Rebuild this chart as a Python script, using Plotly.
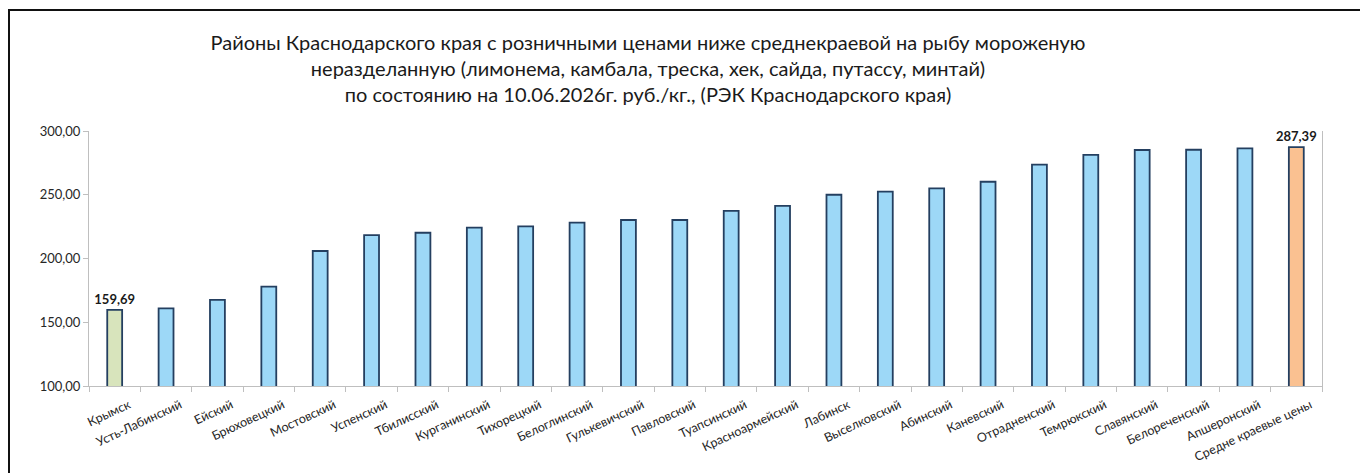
import plotly.graph_objects as go

categories = ["Крымск", "Усть-Лабинский", "Ейский", "Брюховецкий", "Мостовский", "Успенский",
              "Тбилисский", "Курганинский", "Тихорецкий", "Белоглинский", "Гулькевичский",
              "Павловский", "Туапсинский", "Красноармейский", "Лабинск", "Выселковский",
              "Абинский", "Каневский", "Отрадненский", "Темрюкский", "Славянский",
              "Белореченский", "Апшеронский", "Средне краевые цены"]
values = [159.69, 160.9, 167.5, 177.9, 205.9, 218.4, 220.2, 224.2, 225.2, 228.1, 230.2,
          230.2, 237.3, 241.2, 250.0, 252.4, 255.0, 260.2, 273.6, 281.2, 285.1, 285.3,
          286.4, 287.39]
labeled = [0, 23]
y_ticks = [100, 150, 200, 250, 300]

colors = ["#9dd8f7"] * len(values)
colors[0] = "#d8e4bc"
colors[-1] = "#fac191"
texts = [("<b>" + f"{v:.2f}".replace(".", ",") + "</b>") if i in labeled else "" for i, v in enumerate(values)]

W, H = 1360, 473
L, R, T, B = 89, 38, 131, 87
pw, ph = W - L - R, H - T - B

def px(x):
    return (x - L) / pw

def py(y):
    return (H - B - y) / ph

fig = go.Figure()
fig.add_trace(go.Bar(
    x=categories, y=values, width=0.29,
    marker=dict(color=colors, line=dict(color="#243f60", width=1.8)),
    text=texts, textposition="outside", cliponaxis=False, constraintext="none",
    textfont=dict(family="Lato", size=13, color="#1a1a1a"),
    hoverinfo="x+y",
))

fig.update_layout(
    width=W, height=H,
    margin=dict(l=L, r=R, t=T, b=B),
    paper_bgcolor="white", plot_bgcolor="white",
    separators=",.",
    showlegend=False,
    font=dict(family="Lato", color="#333333"),
    title=dict(
        text="Районы Краснодарского края с розничными ценами ниже среднекраевой на рыбу мороженую<br>"
             "неразделанную (лимонема, камбала, треска, хек, сайда, путассу, минтай)<br>"
             "по состоянию на 10.06.2026г. руб./кг., (РЭК Краснодарского края)",
        x=648 / W, xref="container", xanchor="center",
        y=1 - 50 / H, yref="container", yanchor="top",
        font=dict(family="Lato", size=20, color="#1a1a1a"),
    ),
    xaxis=dict(
        tickangle=-25, tickfont=dict(family="Lato", size=12.5, color="#262626"),
        ticklabelshift=14, ticklabelstandoff=6,
        showline=True, linecolor="#bfbfbf", linewidth=1,
        ticks="outside", tickson="boundaries", ticklen=5, tickcolor="#bfbfbf",
        showgrid=False, automargin=False,
    ),
    yaxis=dict(
        range=[100, 300], tickvals=y_ticks, tickformat=".2f",
        tickfont=dict(family="Lato", size=13, color="#262626"),
        showline=True, linecolor="#bfbfbf", linewidth=1, mirror=True,
        ticks="outside", ticklen=5, tickcolor="#bfbfbf",
        showgrid=False, zeroline=False, automargin=False,
    ),
    shapes=[dict(type="rect", xref="paper", yref="paper",
                 x0=px(9), x1=px(1370), y0=py(490), y1=py(10),
                 line=dict(color="#111111", width=2), fillcolor="rgba(0,0,0,0)", layer="below")],
)

fig.write_html("out.html", config={"displayModeBar": False},
               post_script="document.body.style.margin='0';document.body.style.overflow='hidden';")
